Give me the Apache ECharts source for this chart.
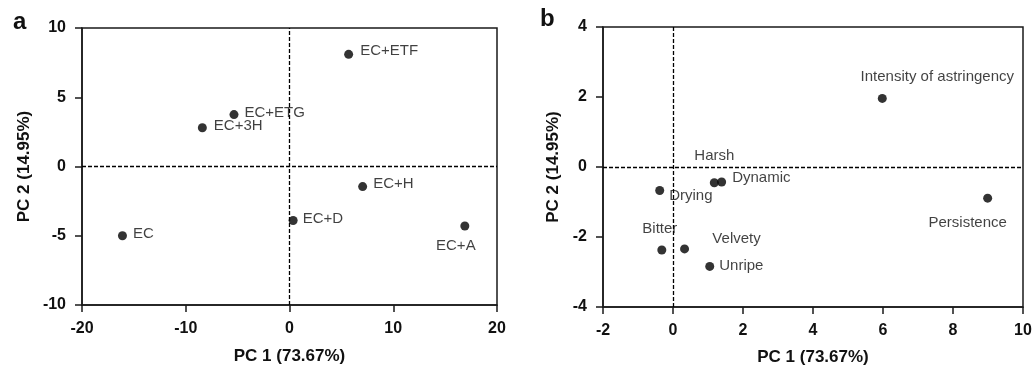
<!DOCTYPE html>
<html>
<head>
<meta charset="utf-8">
<script src="https://cdn.jsdelivr.net/npm/echarts@6/dist/echarts.min.js"></script>
<style>
  html, body { margin: 0; padding: 0; background: #fff; }
  #chart { width: 1032px; height: 369px; }
</style>
</head>
<body>
<div id="chart"></div>
<script>
// panel a: samples
const sampleNames = ['EC', 'EC+3H', 'EC+ETG', 'EC+ETF', 'EC+H', 'EC+D', 'EC+A']
const samplePC1 = [-16.1, -8.4, -5.35, 5.7, 7.05, 0.35, 16.9]
const samplePC2 = [-5.0, 2.8, 3.75, 8.1, -1.45, -3.9, -4.3]

// panel b: attributes
const attrNames = ['Intensity of astringency', 'Persistence', 'Harsh', 'Dynamic', 'Drying', 'Bitter', 'Velvety', 'Unripe']
const attrPC1 = [5.98, 8.99, 1.18, 1.39, -0.38, -0.32, 0.33, 1.05]
const attrPC2 = [1.96, -0.89, -0.45, -0.43, -0.67, -2.37, -2.34, -2.84]

const xTicksA = [-20, -10, 0, 10, 20]
const yTicksA = [-10, -5, 0, 5, 10]
const xTicksB = [-2, 0, 2, 4, 6, 8, 10]
const yTicksB = [-4, -2, 0, 2, 4]

// label placement per point (style only)
const labelPlace = {
  'EC': { position: 'right', offset: [1, -2] },
  'EC+3H': { position: 'right', offset: [2, -2] },
  'EC+ETG': { position: 'right', offset: [1, -2] },
  'EC+ETF': { position: 'right', offset: [2, -3] },
  'EC+H': { position: 'right', offset: [1, -3] },
  'EC+D': { position: 'right', offset: [0, -2] },
  'EC+A': { position: 'bottom', offset: [-9, 3] },
  'Intensity of astringency': { position: 'top', offset: [55, -5] },
  'Persistence': { position: 'bottom', offset: [-20, 8] },
  'Harsh': { position: 'top', offset: [0, -10] },
  'Dynamic': { position: 'right', offset: [1, -4] },
  'Drying': { position: 'right', offset: [0, 5] },
  'Bitter': { position: 'top', offset: [-2, -4] },
  'Velvety': { position: 'top', offset: [52, 7] },
  'Unripe': { position: 'right', offset: [0, -1] }
}

const axisColor = '#1a1a1a'
const fontFamily = 'Liberation Sans, Arial, sans-serif'

const mkX = (idx, ticks, gap) => ({
  type: 'value',
  gridIndex: idx,
  min: ticks[0],
  max: ticks[ticks.length - 1],
  interval: ticks[1] - ticks[0],
  name: 'PC 1 (73.67%)',
  nameLocation: 'middle',
  nameGap: gap,
  nameTextStyle: { fontFamily, fontWeight: 'bold', fontSize: 17, color: '#111' },
  axisLine: { onZero: false, lineStyle: { color: axisColor, width: 1.5 } },
  axisTick: { show: true, inside: false, length: 7, lineStyle: { color: axisColor, width: 1.5 } },
  axisLabel: { margin: 16, fontFamily, fontWeight: 'bold', fontSize: 16, color: '#111' },
  splitLine: { show: false }
})

const mkY = (idx, ticks, gap) => ({
  type: 'value',
  gridIndex: idx,
  min: ticks[0],
  max: ticks[ticks.length - 1],
  interval: ticks[1] - ticks[0],
  name: 'PC 2 (14.95%)',
  nameLocation: 'middle',
  nameGap: gap,
  nameRotate: 90,
  nameTextStyle: { fontFamily, fontWeight: 'bold', fontSize: 17, color: '#111' },
  axisLine: { onZero: false, lineStyle: { color: axisColor, width: 1.5 } },
  axisTick: { show: true, inside: false, length: 7, lineStyle: { color: axisColor, width: 1.5 } },
  axisLabel: { margin: 16, fontFamily, fontWeight: 'bold', fontSize: 16, color: '#111' },
  splitLine: { show: false }
})

const mkSeries = (idx, names, xs, ys) => ({
  type: 'scatter',
  xAxisIndex: idx,
  yAxisIndex: idx,
  symbol: 'circle',
  symbolSize: 9,
  itemStyle: { color: '#000' },
  data: names.map((n, i) => ({
    name: n,
    value: [xs[i], ys[i]],
    label: { show: true, formatter: n, fontFamily, fontSize: 15, color: '#111', ...labelPlace[n] }
  })),
  markLine: {
    silent: true,
    symbol: 'none',
    label: { show: false },
    lineStyle: { color: '#000', type: [4, 2], width: 1.3 },
    data: [{ xAxis: 0 }, { yAxis: 0 }]
  },
  z: 3
})

const chart = echarts.init(document.getElementById('chart'))

chart.setOption({
  backgroundColor: '#fff',
  animation: false,
  grid: [
    { left: 82, right: 535, top: 28, bottom: 64, outerBoundsMode: 'none', show: true, borderColor: axisColor, borderWidth: 1.5 },
    { left: 603, right: 9, top: 27, bottom: 62, outerBoundsMode: 'none', show: true, borderColor: axisColor, borderWidth: 1.5 }
  ],
  xAxis: [mkX(0, xTicksA, 43), mkX(1, xTicksB, 42)],
  yAxis: [mkY(0, yTicksA, 49), mkY(1, yTicksB, 41)],
  series: [
    mkSeries(0, sampleNames, samplePC1, samplePC2),
    mkSeries(1, attrNames, attrPC1, attrPC2)
  ],
  graphic: [
    { type: 'text', left: 13, top: 10, style: { text: 'a', fontFamily, fontWeight: 'bold', fontSize: 24, fill: '#111' } },
    { type: 'text', left: 540, top: 7, style: { text: 'b', fontFamily, fontWeight: 'bold', fontSize: 24, fill: '#111' } }
  ]
})
</script>
</body>
</html>
